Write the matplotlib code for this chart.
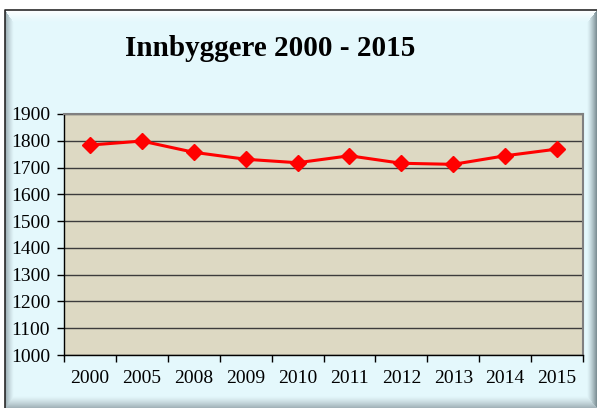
import matplotlib
matplotlib.use("Agg")
import matplotlib.pyplot as plt
import numpy as np

# data
years = ["2000", "2005", "2008", "2009", "2010", "2011", "2012", "2013", "2014", "2015"]
innbyggere = [1784, 1799, 1757, 1731, 1718, 1744, 1716, 1712, 1744, 1769]
y_ticks = [1000, 1100, 1200, 1300, 1400, 1500, 1600, 1700, 1800, 1900]

plt.rcParams['font.family'] = ['Liberation Serif', 'DejaVu Serif']

W, H = 597, 408
fig = plt.figure(figsize=(W / 100, H / 100), dpi=100)
fig.patch.set_facecolor('white')

# outer chart panel with a bevelled edge, drawn in a background axes
bg = fig.add_axes([0, 0, 1, 1], zorder=0)
bg.axis('off')

px0, py0 = 5, 10
pw, ph = W - px0, H - py0
base = np.array([228, 248, 252]) / 255
yy, xx = np.mgrid[0:ph, 0:pw] + 0.5
d = np.stack([yy, xx, pw - xx, ph - yy])          # top, left, right, bottom
edge_cols = np.array([[255, 255, 255], [150, 168, 174],
                      [120, 138, 144], [160, 176, 182]]) / 255
widths = np.array([13, 9, 10, 12])
nearest = np.argmin(d / widths[:, None, None], axis=0)
dn = np.take_along_axis(d, nearest[None], axis=0)[0]
t = np.clip(1 - dn / widths[nearest], 0, 1)[..., None] ** 1.3
img = base * (1 - t) + edge_cols[nearest] * t
bg.imshow(img, extent=(px0, W, H, py0), interpolation='bilinear', aspect='auto')
bg.plot([px0, px0, W], [H, py0, py0], color='#2a2a2a', linewidth=1.2)
bg.set_xlim(0, W)
bg.set_ylim(H, 0)

ax = fig.add_axes([64 / W, 1 - 355 / H, 519 / W, 241 / H], zorder=1)
ax.set_facecolor('#ddd9c3')

x = range(len(years))
ax.plot(x, innbyggere, color='#ff0000', linewidth=2.2, marker='D', markersize=8.5,
        zorder=3)

ax.set_xlim(-0.5, len(years) - 0.5)
ax.set_ylim(1000, 1900)
ax.set_yticks(y_ticks)
ax.set_yticklabels([str(v) for v in y_ticks])
ax.yaxis.grid(True, color='#3c3c3c', linewidth=1.0)
ax.set_axisbelow(True)

# category axis: tick marks between categories, labels at centres
ax.set_xticks([i - 0.5 for i in range(len(years) + 1)])
ax.set_xticklabels([])
ax.set_xticks(list(x), minor=True)
ax.set_xticklabels(years, minor=True)
ax.tick_params(axis='x', which='minor', length=0, pad=11, labelsize=14)
ax.tick_params(axis='x', which='major', length=5, width=1, color='black', direction='out')
ax.tick_params(axis='y', length=5, width=1, pad=5, labelsize=14, direction='out')

for s in ['left', 'bottom']:
    ax.spines[s].set_color('black')
    ax.spines[s].set_linewidth(1.0)
for s in ['top', 'right']:
    ax.spines[s].set_color('#808080')
    ax.spines[s].set_linewidth(1.5)

fig.text(270 / W, 1 - 48 / H, "Innbyggere 2000 - 2015", ha='center', va='center',
         fontsize=21, fontweight='bold')

fig.savefig('out.png', dpi=100)
